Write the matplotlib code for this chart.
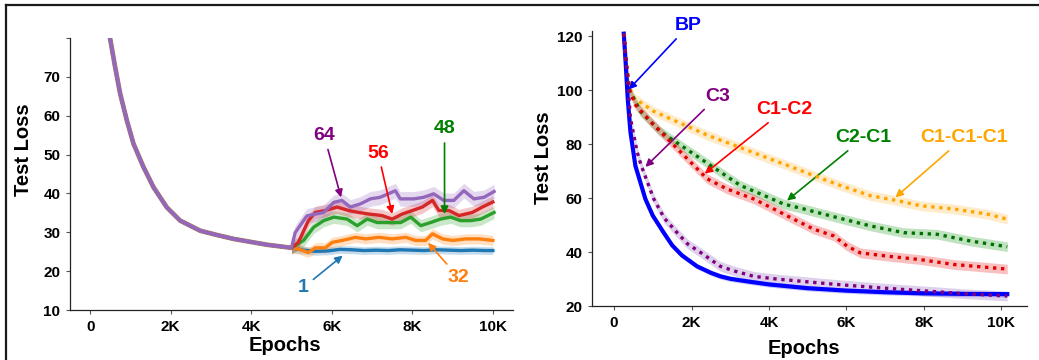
import numpy as np
import matplotlib
matplotlib.use("Agg")
import matplotlib.pyplot as plt
from matplotlib.lines import Line2D

plt.rcParams['font.family'] = ['Liberation Sans', 'DejaVu Sans']
plt.rcParams['font.weight'] = 'bold'

# ---------------- left panel data ----------------
# shared warm-up before branching at 5K epochs
warm_epochs = [420, 497, 621, 745, 911, 1076, 1324, 1573, 1905, 2236, 2733, 3150, 3560, 4000, 4388, 5000]
warm_loss = [84.0, 79.8, 72.5, 65.7, 58.8, 52.8, 46.8, 41.6, 36.4, 33.0, 30.4, 29.3, 28.3, 27.5, 26.8, 26.0]

ep_1 = [5000, 5300, 5600, 5900, 6200, 6500, 6800, 7100, 7400, 7700, 8000, 8300, 8600, 8900, 9200, 9500, 9800, 10000]
loss_1 = [25.8, 25.4, 25.1, 25.2, 25.6, 25.5, 25.3, 25.4, 25.3, 25.5, 25.4, 25.3, 25.5, 25.4, 25.3, 25.4, 25.3, 25.3]

ep_32 = [5000, 5170, 5420, 5590, 5840, 6010, 6260, 6590, 6840, 7170, 7500, 7840, 8080, 8330, 8500, 8750, 9000, 9330, 9660, 10000]
loss_32 = [26.0, 25.7, 24.8, 26.0, 26.0, 27.4, 27.9, 28.7, 28.3, 28.7, 28.3, 28.7, 27.9, 27.9, 29.6, 28.3, 27.9, 28.3, 28.3, 27.9]

ep_48 = [5000, 5300, 5550, 5800, 6050, 6380, 6630, 6880, 7130, 7460, 7710, 7960, 8210, 8450, 8700, 8950, 9200, 9450, 9700, 10030]
loss_48 = [26.0, 27.9, 31.3, 33.0, 33.9, 33.4, 31.7, 33.4, 32.5, 32.5, 32.5, 33.9, 31.7, 32.5, 33.4, 33.9, 33.0, 33.0, 33.4, 35.1]

ep_56 = [5000, 5170, 5420, 5590, 5840, 6130, 6420, 6670, 6920, 7250, 7500, 7750, 8000, 8250, 8500, 8660, 8910, 9160, 9490, 9740, 10000]
loss_56 = [26.0, 27.4, 33.0, 35.1, 35.6, 36.5, 35.6, 35.1, 34.7, 34.3, 33.4, 34.7, 35.6, 36.5, 38.2, 35.6, 35.6, 34.3, 35.1, 36.5, 37.8]

ep_64 = [5000, 5090, 5380, 5550, 5800, 6050, 6250, 6460, 6710, 6960, 7200, 7580, 7700, 8040, 8280, 8530, 8780, 9030, 9280, 9530, 9780, 10030]
loss_64 = [26.0, 29.9, 34.2, 34.6, 35.1, 37.7, 38.2, 36.5, 37.3, 38.6, 39.0, 40.7, 38.6, 38.6, 39.0, 39.9, 38.2, 38.2, 40.7, 38.6, 39.0, 40.5]

left_names = ['1', '32', '48', '56', '64']
left_colors = ['#1f77b4', '#ff7f0e', '#2ca02c', '#d62728', '#9467bd']
left_text_colors = ['#1f77b4', '#ff7f0e', '#008000', '#ff0000', '#800080']
left_band = [1.0, 1.3, 1.6, 1.6, 1.9]
# (text x, text y, arrow tip x, arrow tip y)
left_notes = [(5285, 15.7, 6270, 24.0),
              (9150, 18.4, 8390, 27.3),
              (8800, 56.6, 8800, 34.7),
              (7150, 50.4, 7500, 34.7),
              (5810, 54.9, 6230, 39.0)]

# ---------------- right panel data ----------------
bp_ep = [250, 300, 352, 421, 550, 808, 1000, 1281, 1500, 1750, 2143, 2500, 2745, 3000, 3500, 4000, 5000, 6000, 7000, 8000, 9000, 10150]
bp_loss = [121, 110, 97, 84.7, 72, 59.7, 53.5, 47.2, 42.5, 38.8, 34.7, 32.3, 31.0, 30.1, 29.0, 28.0, 26.6, 25.7, 25.1, 24.7, 24.5, 24.4]

c3_ep = [250, 361, 421, 594, 697, 1024, 1300, 1627, 1900, 2228, 2745, 3100, 3605, 4200, 4896, 5500, 6187, 7000, 7908, 9000, 10150]
c3_loss = [121, 102, 89.7, 77.2, 72.2, 59.7, 52.5, 47.2, 43.0, 39.9, 34.7, 33.0, 31.0, 30.0, 29.1, 28.3, 27.5, 26.6, 25.7, 24.6, 23.7]

c12_ep = [250, 330, 400, 550, 1024, 1540, 2057, 2400, 2918, 3605, 4121, 4637, 5154, 5670, 6016, 6360, 7049, 7908, 8768, 10150]
c12_loss = [121, 108, 100, 94.6, 87.2, 79.7, 72.2, 67.2, 63.4, 59.7, 56.0, 52.2, 48.5, 46.0, 42.2, 39.7, 38.5, 37.2, 35.4, 33.7]

c21_ep = [250, 330, 400, 679, 1196, 1712, 2228, 2745, 3261, 3777, 4380, 4896, 5757, 6618, 7478, 8339, 9200, 10150]
c21_loss = [121, 108, 100, 92.2, 84.7, 79.7, 74.7, 69.7, 64.7, 61.6, 57.8, 56.0, 52.8, 49.7, 47.2, 46.6, 44.1, 42.0]

c111_ep = [250, 330, 400, 506, 1024, 1712, 2400, 3089, 3777, 4466, 5154, 5843, 6618, 7307, 7908, 8768, 9630, 10150]
c111_loss = [121, 108, 101, 97.2, 92.2, 87.8, 83.4, 79.7, 75.9, 72.2, 68.4, 64.7, 60.9, 59.1, 57.2, 56.0, 54.1, 52.2]

right_names = ['C1-C1-C1', 'C2-C1', 'C1-C2', 'C3']
right_line_colors = ['#ffa500', '#007000', '#e00000', '#800080']
right_band_colors = ['#ffc04d', '#2ca02c', '#f03030', '#9467bd']
right_text_colors = ['#ffa500', '#008000', '#ff0000', '#800080']
right_notes = [(9028, 82.4, 7263, 60.3),
               (6445, 82.4, 4466, 59.1),
               (4397, 92.8, 2340, 69.1),
               (2676, 97.8, 808, 71.6)]
bp_note = (1926, 124.0, 377, 100.3)

fig = plt.figure(figsize=(10.39, 3.6), dpi=100)
ax1 = fig.add_axes([70 / 1039, 1 - 310 / 360, 443 / 1039, 272 / 360])
ax2 = fig.add_axes([592 / 1039, 1 - 306 / 360, 435 / 1039, 275 / 360])


def style_axis(ax):
    for s in ['top', 'right']:
        ax.spines[s].set_visible(False)
    for s in ['left', 'bottom']:
        ax.spines[s].set_color('#222222')
        ax.spines[s].set_linewidth(0.9)
    ax.tick_params(length=3, width=0.8, color='#555555', labelsize=11, pad=4)
    for lab in ax.get_xticklabels() + ax.get_yticklabels():
        lab.set_fontweight('bold')


def note(ax, name, color, tx, ty, px, py):
    ax.annotate(name, xy=(px, py), xytext=(tx, ty), color=color, fontsize=14,
                fontweight='bold', ha='center', va='center', annotation_clip=False,
                arrowprops=dict(arrowstyle='-|>', color=color, lw=1.2, mutation_scale=11,
                                shrinkA=2, shrinkB=0))


# ---- left ----
post = [(ep_1, loss_1), (ep_32, loss_32), (ep_48, loss_48), (ep_56, loss_56), (ep_64, loss_64)]
for (ep, ls), c, bw in zip(post, left_colors, left_band):
    ax1.fill_between(ep, np.array(ls) - bw, np.array(ls) + bw, color=c, alpha=0.25, lw=0)
for (ep, ls), c in zip(post, left_colors):
    x = warm_epochs + ep[1:]
    y = warm_loss + ls[1:]
    ax1.plot(x, y, color=c, lw=2.4, solid_joinstyle='round')
ax1.plot(warm_epochs, warm_loss, color='#a8805e', lw=3.4, zorder=2.9, solid_capstyle='butt')
ax1.plot(warm_epochs, warm_loss, color='#9467bd', lw=2.6, zorder=3, solid_capstyle='butt')

for name, tc, (tx, ty, px, py) in zip(left_names, left_text_colors, left_notes):
    note(ax1, name, tc, tx, ty, px, py)

ax1.set_xlim(-500, 10500)
ax1.set_ylim(10, 80)
ax1.set_xticks([0, 2000, 4000, 6000, 8000, 10000])
ax1.set_xticklabels(['0', '2K', '4K', '6K', '8K', '10K'])
ax1.set_yticks([10, 20, 30, 40, 50, 60, 70, 80])
ax1.set_yticklabels(['10', '20', '30', '40', '50', '60', '70', ''])
style_axis(ax1)
ax1.set_xlabel('Epochs', fontsize=14.5, fontweight='bold')
ax1.set_ylabel('Test Loss', fontsize=14.5, fontweight='bold')
ax1.xaxis.set_label_coords(0.486, -0.097)
ax1.yaxis.set_label_coords(-0.084, 0.59)

# ---- right ----
series = [(c111_ep, c111_loss), (c21_ep, c21_loss), (c12_ep, c12_loss), (c3_ep, c3_loss)]
for (ep, ls), bc in zip(series, right_band_colors):
    ax2.fill_between(ep, np.array(ls) - 1.8, np.array(ls) + 1.8, color=bc, alpha=0.3, lw=0)
ax2.fill_between(bp_ep, np.array(bp_loss) - 1.0, np.array(bp_loss) + 1.0, color='#0000ff', alpha=0.2, lw=0)
ax2.plot(bp_ep, bp_loss, color='#0000ff', lw=3.0, zorder=3)
for (ep, ls), lc in zip(series, right_line_colors):
    ax2.plot(ep, ls, color=lc, lw=2.4, linestyle=(0, (1, 1.4)), zorder=4)

for name, tc, (tx, ty, px, py) in zip(right_names, right_text_colors, right_notes):
    note(ax2, name, tc, tx, ty, px, py)
tx, ty, px, py = bp_note
note(ax2, 'BP', '#0000ff', tx, ty, px, py)

ax2.set_xlim(-570, 10660)
ax2.set_ylim(20, 122)
ax2.set_xticks([0, 2000, 4000, 6000, 8000, 10000])
ax2.set_xticklabels(['0', '2K', '4K', '6K', '8K', '10K'])
ax2.set_yticks([20, 40, 60, 80, 100, 120])
style_axis(ax2)
ax2.set_xlabel('Epochs', fontsize=14.5, fontweight='bold')
ax2.set_ylabel('Test Loss', fontsize=14.5, fontweight='bold')
ax2.xaxis.set_label_coords(0.487, -0.12)
ax2.yaxis.set_label_coords(-0.09, 0.54)

# outer frame (top and left edges)
fig.add_artist(Line2D([6 / 1039, 1], [1 - 5 / 360, 1 - 5 / 360], transform=fig.transFigure,
                      color='#1a1a1a', lw=1.6))
fig.add_artist(Line2D([6 / 1039, 6 / 1039], [0, 1 - 5 / 360], transform=fig.transFigure,
                      color='#1a1a1a', lw=1.6))

fig.savefig('out.png', dpi=100)
